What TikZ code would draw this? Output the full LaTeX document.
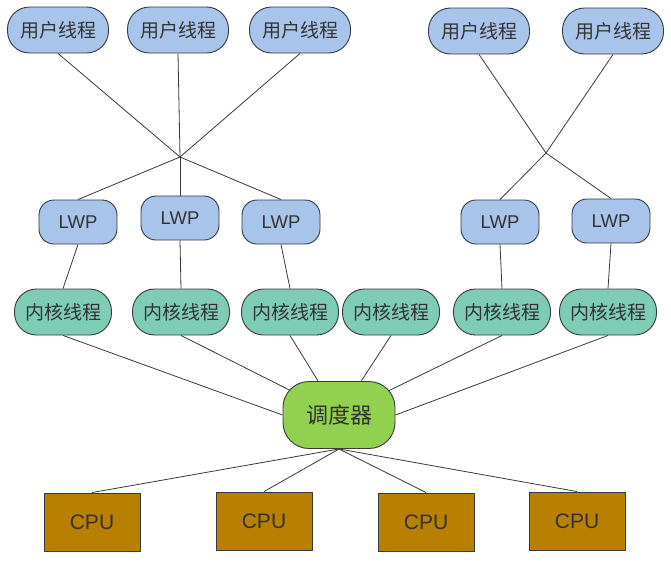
\documentclass[tikz,border=0pt]{standalone}
\usepackage{fontspec}
\setmainfont{Liberation Sans}
\newfontfamily\cjk{Noto Sans CJK SC}
\usetikzlibrary{backgrounds}
\definecolor{userblue}{HTML}{A9C4EB}
\definecolor{kernelgreen}{HTML}{7ECCB4}
\definecolor{schedgreen}{HTML}{92D050}
\definecolor{cpubrown}{HTML}{B98000}
\definecolor{edge}{HTML}{36393D}
\definecolor{txt}{HTML}{333333}
\begin{document}
\begin{tikzpicture}[x=1pt, y=-1pt, line join=round, line cap=round,
	box/.style={draw=edge, line width=0.9pt, text=txt, inner sep=0pt},
	user/.style={box, fill=userblue, rounded corners=22pt, minimum width=101pt, minimum height=46pt, font=\cjk\fontsize{19}{19}\selectfont},
	lwp/.style={box, fill=userblue, rounded corners=15pt, minimum width=78pt, minimum height=44pt, font=\fontsize{18.5}{18.5}\selectfont},
	kern/.style={box, fill=kernelgreen, rounded corners=22pt, minimum width=97pt, minimum height=46pt, font=\cjk\fontsize{19}{19}\selectfont},
	sched/.style={box, fill=schedgreen, rounded corners=26pt, minimum width=112pt, minimum height=67pt, font=\cjk\fontsize{22}{22}\selectfont},
	cpu/.style={box, fill=cpubrown, minimum width=96pt, minimum height=58pt, font=\fontsize{21}{21}\selectfont},
	link/.style={draw=edge, line width=0.8pt}]
			\useasboundingbox (0,0) rectangle (671,582);
			\foreach \n/\x/\y in {u1/58/30, u2/178/30, u3/300/30, u4/479/31, u5/613/31}
			\node[user] (\n) at (\x,\y) {用户线程};
			\foreach \n/\x/\y in {w1/78/222, w2/180/218, w3/281/222, w4/500/222, w5/611/221}
			\node[lwp] (\n) at (\x,\y) {LWP};
			\foreach \n/\x in {k1/63, k2/181, k3/290, k4/391, k5/502, k6/608}
			\node[kern] (\n) at (\x,312) {内核线程};
			\node[sched] (s) at (339,415) {调度器};
			\foreach \n/\x/\y in {c1/92/522, c2/264/521, c3/426/522, c4/577/521}
			\node[cpu] (\n) at (\x,\y) {CPU};
			\path
			(180,157) coordinate (X)
			(546,153) coordinate (Y)
			;
			\begin{pgfonlayer}{background}
			\foreach \n in {u1,u2,u3}
			\draw[link] (\n.south) -- (X);
			\foreach \n in {w1,w2,w3}
			\draw[link] (X) -- (\n.north);
			\foreach \n in {u4,u5}
			\draw[link] (\n.south) -- (Y);
			\foreach \n in {w4,w5}
			\draw[link] (Y) -- (\n.north);
			\foreach \a/\b in {w1/k1, w2/k2, w3/k3, w4/k5, w5/k6}
			\draw[link] (\a.south) -- (\b.north);
			\foreach \n/\t in {k1/s.west, k2/s.center, k3/s.center, k4/s.center, k5/s.center, k6/s.east}
			\draw[link] (\n.south) -- (\t);
			\foreach \n in {c1,c2,c3,c4}
			\draw[link] (s.south) -- (\n.north);
			\end{pgfonlayer}
\end{tikzpicture}
\end{document}
